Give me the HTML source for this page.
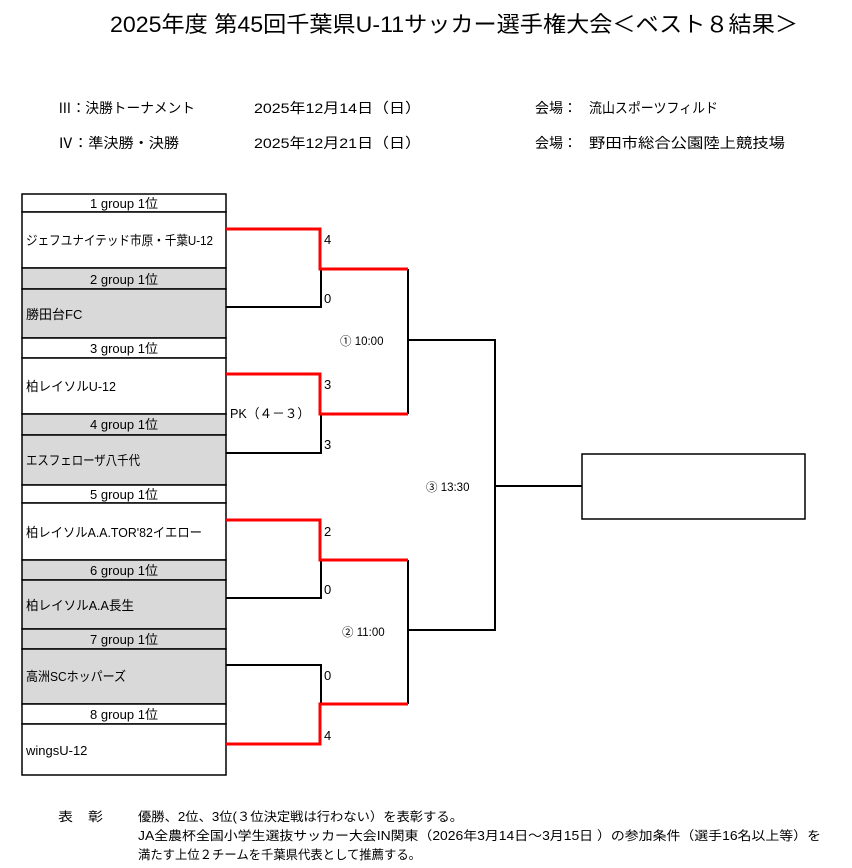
<!DOCTYPE html>
<html><head><meta charset="utf-8"><style>
html,body{margin:0;padding:0;background:#fff}
svg{display:block}
text{font-family:"Liberation Sans","Noto Sans CJK JP",sans-serif;fill:#000}
</style></head><body>
<svg width="852" height="868" viewBox="0 0 852 868" xmlns="http://www.w3.org/2000/svg">
<text x="110" y="32" font-size="22" textLength="688" lengthAdjust="spacingAndGlyphs">2025年度  第45回千葉県U-11サッカー選手権大会＜ベスト８結果＞</text>
<g font-size="14">
<text x="58" y="113" textLength="137" lengthAdjust="spacingAndGlyphs">Ⅲ：決勝トーナメント</text>
<text x="254" y="113" textLength="167" lengthAdjust="spacingAndGlyphs">2025年12月14日（日）</text>
<text x="535" y="113" textLength="42" lengthAdjust="spacingAndGlyphs">会場：</text>
<text x="589" y="113" textLength="129" lengthAdjust="spacingAndGlyphs">流山スポーツフィルド</text>
<text x="58" y="148" textLength="121" lengthAdjust="spacingAndGlyphs">Ⅳ：準決勝・決勝</text>
<text x="254" y="148" textLength="167" lengthAdjust="spacingAndGlyphs">2025年12月21日（日）</text>
<text x="535" y="148" textLength="42" lengthAdjust="spacingAndGlyphs">会場：</text>
<text x="589" y="148" textLength="196" lengthAdjust="spacingAndGlyphs">野田市総合公園陸上競技場</text>
</g>
<g stroke="#000" stroke-width="1.5">
<rect x="22" y="194" width="204" height="18" fill="#fff"/>
<rect x="22" y="212" width="204" height="56" fill="#fff"/>
<rect x="22" y="268" width="204" height="21" fill="#d9d9d9"/>
<rect x="22" y="289" width="204" height="49" fill="#d9d9d9"/>
<rect x="22" y="338" width="204" height="20" fill="#fff"/>
<rect x="22" y="358" width="204" height="56" fill="#fff"/>
<rect x="22" y="414" width="204" height="21" fill="#d9d9d9"/>
<rect x="22" y="435" width="204" height="50" fill="#d9d9d9"/>
<rect x="22" y="485" width="204" height="18" fill="#fff"/>
<rect x="22" y="503" width="204" height="57" fill="#fff"/>
<rect x="22" y="560" width="204" height="20" fill="#d9d9d9"/>
<rect x="22" y="580" width="204" height="49" fill="#d9d9d9"/>
<rect x="22" y="629" width="204" height="20" fill="#d9d9d9"/>
<rect x="22" y="649" width="204" height="55" fill="#d9d9d9"/>
<rect x="22" y="704" width="204" height="20" fill="#fff"/>
<rect x="22" y="724" width="204" height="51" fill="#fff"/>
<rect x="582" y="454" width="223" height="65" fill="#fff"/>
</g>
<g font-size="13" text-anchor="middle">
<text x="124" y="208">1 group 1位</text>
<text x="124" y="284">2 group 1位</text>
<text x="124" y="353">3 group 1位</text>
<text x="124" y="429">4 group 1位</text>
<text x="124" y="499">5 group 1位</text>
<text x="124" y="575">6 group 1位</text>
<text x="124" y="644">7 group 1位</text>
<text x="124" y="719">8 group 1位</text>
</g>
<g font-size="13">
<text x="26" y="245" textLength="187" lengthAdjust="spacingAndGlyphs">ジェフユナイテッド市原・千葉U-12</text>
<text x="26" y="319">勝田台FC</text>
<text x="26" y="391" textLength="90" lengthAdjust="spacingAndGlyphs">柏レイソルU-12</text>
<text x="26" y="465" textLength="114" lengthAdjust="spacingAndGlyphs">エスフェローザ八千代</text>
<text x="26" y="537" textLength="176" lengthAdjust="spacingAndGlyphs">柏レイソルA.A.TOR'82イエロー</text>
<text x="26" y="610" textLength="108" lengthAdjust="spacingAndGlyphs">柏レイソルA.A長生</text>
<text x="26" y="681" textLength="100" lengthAdjust="spacingAndGlyphs">高洲SCホッパーズ</text>
<text x="26" y="755">wingsU-12</text>
</g>
<g stroke="#000" stroke-width="2" fill="none">
<polyline points="226,307 321,307 321,269"/>
<polyline points="226,453 321,453 321,414"/>
<polyline points="226,598 321,598 321,560"/>
<polyline points="226,665 321,665 321,704"/>
<line x1="408" y1="269" x2="408" y2="414"/>
<line x1="408" y1="560" x2="408" y2="704"/>
<polyline points="408,340 495,340 495,630 408,630"/>
<line x1="495" y1="486" x2="582" y2="486"/>
</g>
<g stroke="#f00" stroke-width="3" fill="none">
<polyline points="226,229 320,229 320,269 408,269"/>
<polyline points="226,374 320,374 320,414 408,414"/>
<polyline points="226,520 320,520 320,560 408,560"/>
<polyline points="226,744 320,744 320,704 408,704"/>
</g>
<g font-size="13">
<text x="324" y="244">4</text>
<text x="324" y="303">0</text>
<text x="324" y="389">3</text>
<text x="324" y="449">3</text>
<text x="324" y="536">2</text>
<text x="324" y="594">0</text>
<text x="324" y="680">0</text>
<text x="324" y="740">4</text>
<text x="230" y="418" textLength="80" lengthAdjust="spacingAndGlyphs">PK（４－３）</text>
</g>
<g font-size="11.5">
<text x="340" y="345">① 10:00</text>
<text x="426" y="491">③ 13:30</text>
<text x="342" y="636">② 11:00</text>
</g>
<g font-size="12.5">
<text x="58" y="821" textLength="45" lengthAdjust="spacingAndGlyphs">表　彰</text>
<text x="138" y="821" textLength="325" lengthAdjust="spacingAndGlyphs">優勝、2位、3位(３位決定戦は行わない）を表彰する。</text>
<text x="138" y="840" textLength="683" lengthAdjust="spacingAndGlyphs">JA全農杯全国小学生選抜サッカー大会IN関東（2026年3月14日～3月15日 ）の参加条件（選手16名以上等）を</text>
<text x="138" y="859" textLength="283" lengthAdjust="spacingAndGlyphs">満たす上位２チームを千葉県代表として推薦する。</text>
</g>
</svg>
</body></html>
